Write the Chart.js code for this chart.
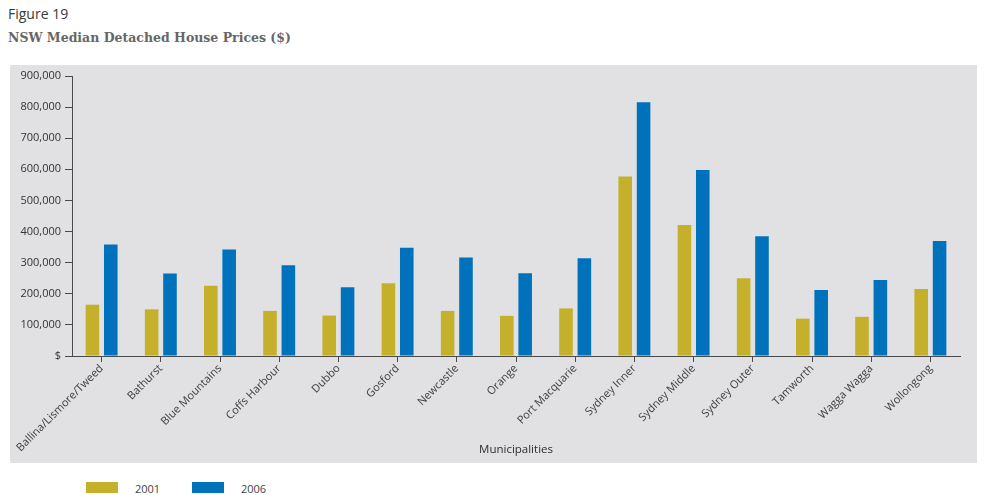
<!DOCTYPE html>
<html>
<head>
<meta charset="utf-8">
<script src="https://cdn.jsdelivr.net/npm/chart.js@4"></script>
<style>
  body { margin: 0; background: #fff; font-family: "Open Sans", sans-serif; }
  #page { position: relative; width: 986px; height: 495px; overflow: hidden; }
  #fig { position: absolute; left: 8px; top: 4px; font-size: 14px; color: #3a3a3a; }
  #title { position: absolute; left: 8px; top: 30px; font: bold 12.5px "DejaVu Serif", serif; color: #666; }
  #panel { position: absolute; left: 10px; top: 65px; width: 967px; height: 398px; background: #e1e1e4; }
  #legend { position: absolute; left: 86px; top: 480px; font-size: 11px; color: #444; }
  #legend span.item { position: absolute; white-space: nowrap; }
  #legend span.box { position: absolute; width: 32px; height: 11px; top: 2px; }
  #legend span.lbl { position: absolute; left: 49px; top: 1px; }
</style>
</head>
<body>
<div id="page">
  <div id="fig">Figure 19</div>
  <div id="title">NSW Median Detached House Prices ($)</div>
  <div id="panel"><canvas id="houseChart" width="967" height="398"></canvas></div>
  <div id="legend"></div>
</div>
<script>
const municipalities = ['Ballina/Lismore/Tweed', 'Bathurst', 'Blue Mountains', 'Coffs Harbour', 'Dubbo',
  'Gosford', 'Newcastle', 'Orange', 'Port Macquarie', 'Sydney Inner', 'Sydney Middle', 'Sydney Outer',
  'Tamworth', 'Wagga Wagga', 'Wollongong'];
const prices2001 = [165000, 150000, 226000, 145000, 130000, 234000, 145000, 129000, 153000, 577000, 421000, 250000, 120000, 126000, 215000];
const prices2006 = [358000, 265000, 342000, 292000, 221000, 348000, 317000, 266000, 314000, 816000, 598000, 385000, 212000, 244000, 370000];
const yearLabels = ['2001', '2006'];
const yearColours = ['#c4b02a', '#0072bc'];

const axisColour = '#4a4a4a';
const textColour = '#3c3c3c';

const ctx = document.getElementById('houseChart').getContext('2d');
const chart = new Chart(ctx, {
  type: 'bar',
  data: {
    labels: municipalities,
    datasets: [
      { label: yearLabels[0], data: prices2001, backgroundColor: yearColours[0] },
      { label: yearLabels[1], data: prices2006, backgroundColor: yearColours[1] }
    ]
  },
  options: {
    responsive: false,
    animation: false,
    layout: { padding: { top: 11, right: 17, left: 0, bottom: 6 } },
    datasets: { bar: { categoryPercentage: 0.62, barPercentage: 0.74 } },
    plugins: { legend: { display: false }, tooltip: { enabled: false } },
    scales: {
      x: {
        grid: { offset: false, drawOnChartArea: false, color: axisColour, tickLength: 6 },
        border: { color: axisColour, width: 1 },
        ticks: {
          color: textColour, font: { family: 'Open Sans', size: 11 },
          minRotation: 45, maxRotation: 45, padding: 0, autoSkip: false
        },
        title: {
          display: true, text: 'Municipalities', color: '#2e2e2e',
          font: { family: 'Open Sans', size: 11.5 }, padding: { top: 0, bottom: 0 }
        },
        afterFit: scale => { scale.height = 101; }
      },
      y: {
        min: 0, max: 900000,
        grid: { drawOnChartArea: false, color: axisColour, tickLength: 7 },
        border: { color: axisColour, width: 1 },
        ticks: {
          stepSize: 100000, color: '#333', padding: 4,
          font: { family: 'Open Sans', size: 11 },
          callback: v => v === 0 ? '$' : v.toLocaleString('en-US')
        },
        afterFit: scale => { scale.width = 62; }
      }
    }
  }
});

// legend from the dataset colours
const legend = document.getElementById('legend');
chart.data.datasets.forEach((ds, i) => {
  const item = document.createElement('span');
  item.className = 'item';
  item.style.left = (i * 106) + 'px';
  item.innerHTML = '<span class="box" style="background:' + ds.backgroundColor + '"></span><span class="lbl">' + ds.label + '</span>';
  legend.appendChild(item);
});
</script>
</body>
</html>
